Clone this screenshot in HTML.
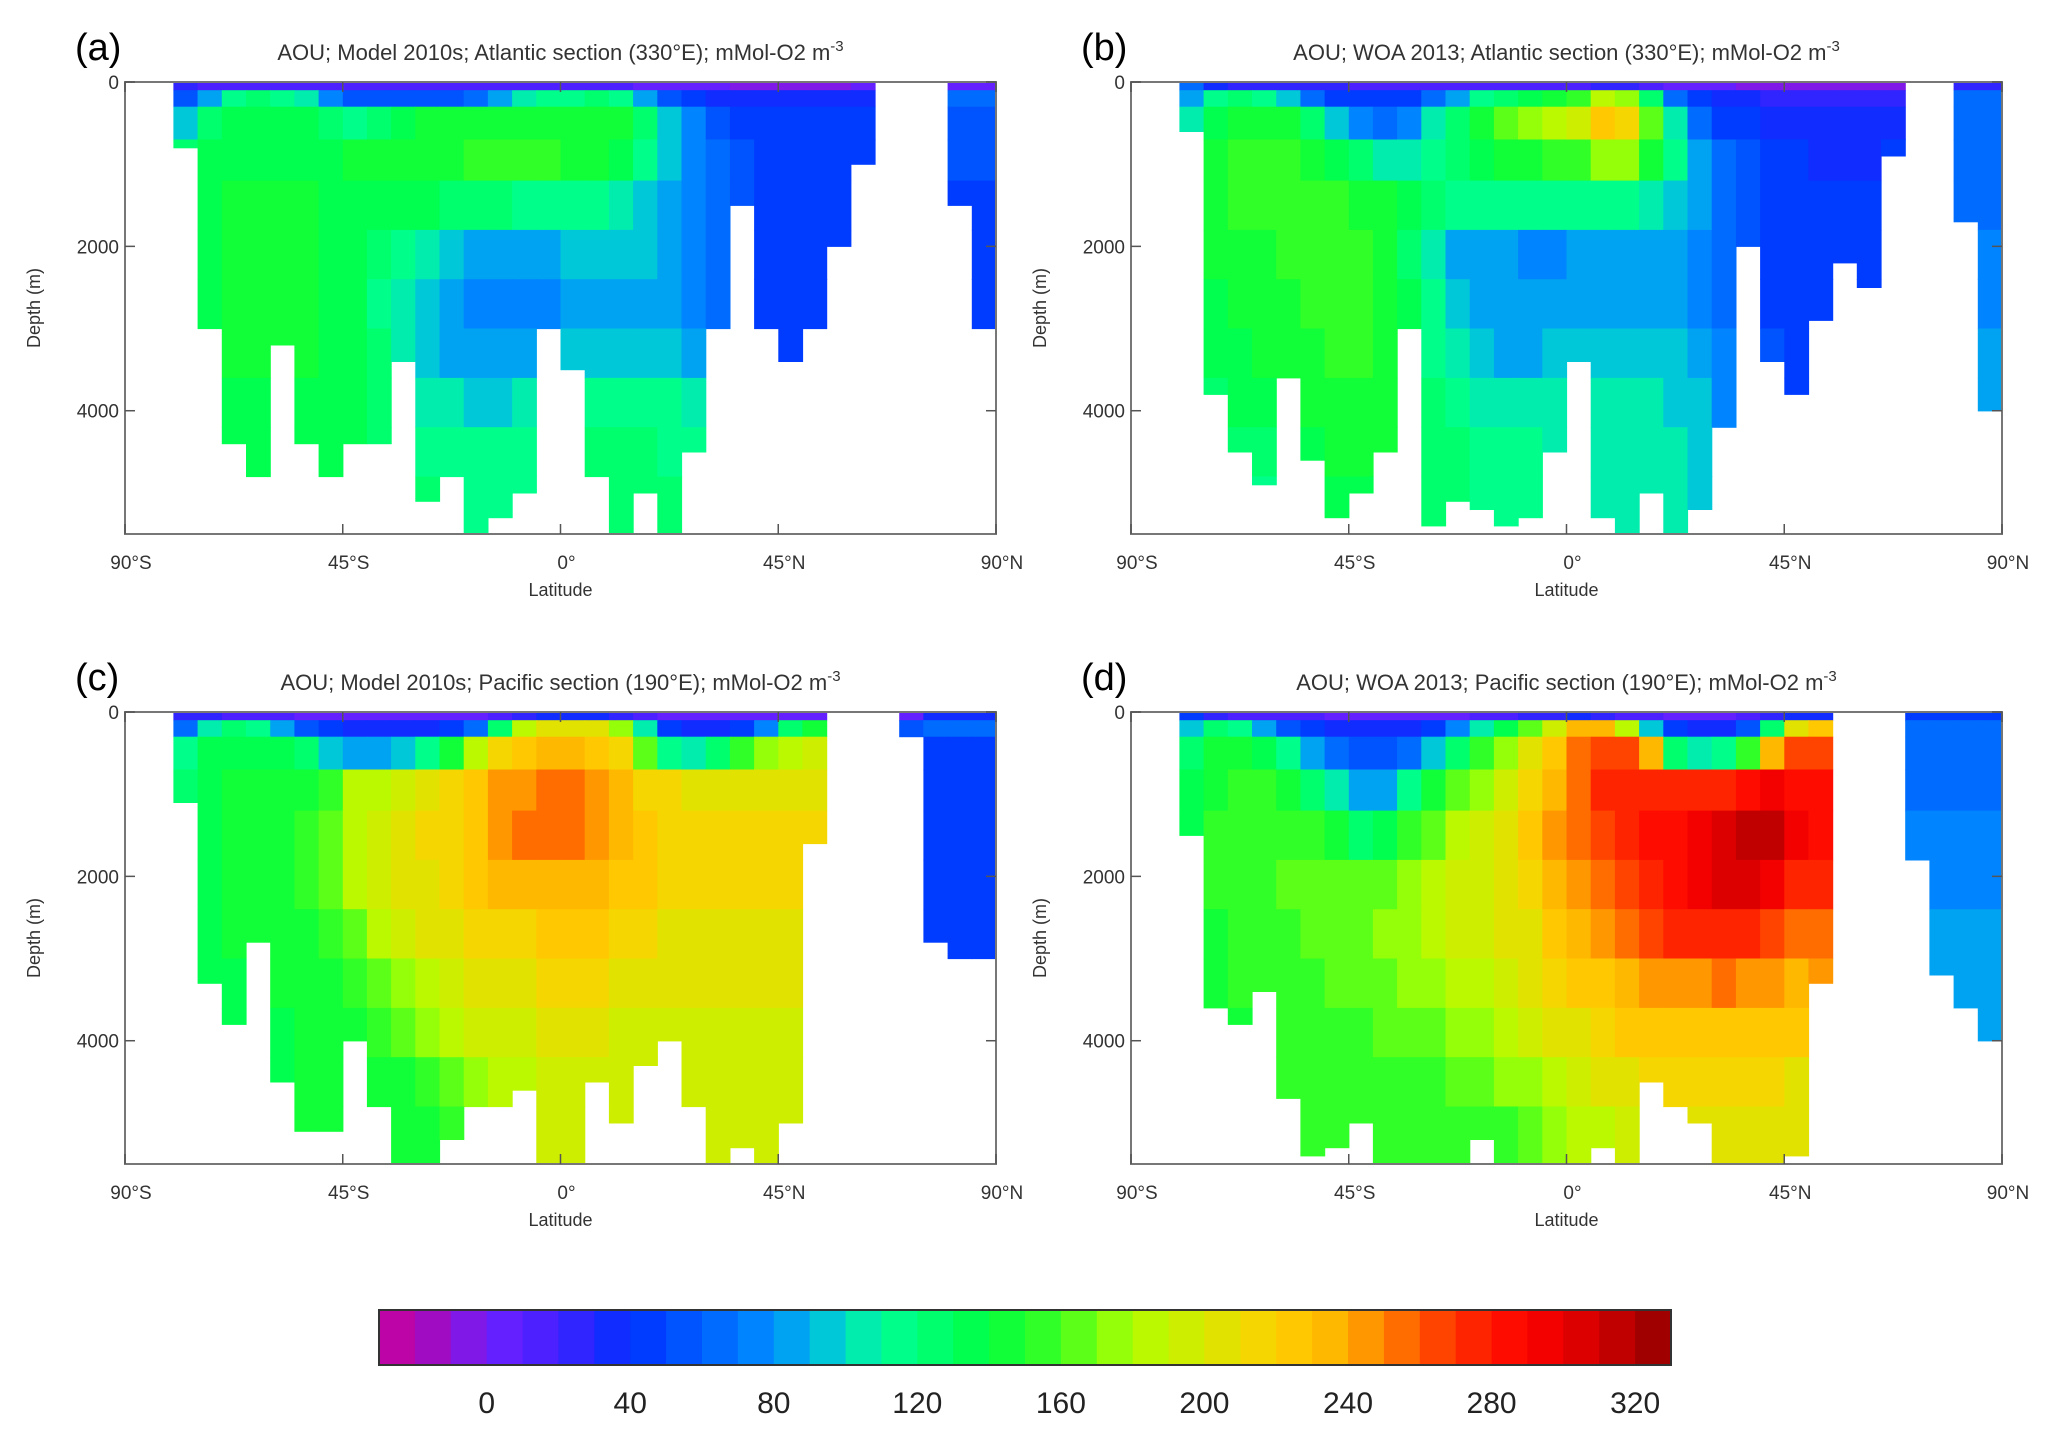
<!DOCTYPE html>
<html><head><meta charset="utf-8"><style>
html,body{margin:0;padding:0;background:#fff;}
svg{display:block;font-family:"Liberation Sans",sans-serif;}
</style></head><body>
<svg id="fig" width="2068" height="1438" viewBox="0 0 2068 1438" xmlns="http://www.w3.org/2000/svg"></svg>
<script>
// ---- shared axes data ----
const depthEdges=[0,100,300,700,1200,1800,2400,3000,3600,4200,4800,5500];
const latStarts=[-90,-85,-80,-75,-70,-65,-60,-55,-50,-45,-40,-35,-30,-25,-20,-15,-10,-5,0,5,10,15,20,25,30,35,40,45,50,55,60,65,70,75,80,85];
const xTickVals=[-90,-45,0,45,90];
const xTickLabels=["90°S","45°S","0°","45°N","90°N"];
const yTickVals=[0,2000,4000];
const yTickLabels=["0","2000","4000"];
const cbTickVals=[0,40,80,120,160,200,240,280,320];
const cbMin=-30, cbMax=330;

// ---- panel (a) Model Atlantic ----
const aBottom=[0,0,800,3000,4400,4800, 3200,4400,4800,4400,4400,3400, 5100,4800,5500,5300,5000,3000, 3500,4800,5500,5000,5500,4500, 3000,1500,3000,3400,3000,2000, 1000,0,0,0,1500,3000];
const aVals=[
[0,0,20,15,15,15, 15,15,15,15,15,15, 15,15,15,12,12,12, 12,12,10,5,0,0, 0,-5,-5,-5,-5,-5, 0,0,0,0,5,5],
[0,0,50,80,110,120, 115,100,70,55,50,50, 50,55,60,80,100,110, 110,120,110,80,50,40, 35,30,30,30,30,30, 35,0,0,0,60,60],
[0,0,90,125,135,135, 130,130,120,115,120,135, 140,140,140,145,145,140, 140,145,140,120,90,70, 55,48,45,45,45,45, 45,0,0,0,55,55],
[0,0,120,135,138,138, 138,138,138,140,142,145, 145,148,150,152,152,150, 145,140,130,110,90,75, 60,52,48,45,45,45, 45,0,0,0,50,50],
[0,0,0,138,140,140, 140,140,138,138,135,135, 130,128,125,120,118,115, 115,112,105,95,85,75, 60,50,45,42,42,42, 0,0,0,0,45,45],
[0,0,0,138,140,140, 140,140,138,135,125,115, 105,95,85,80,80,85, 90,95,95,90,85,75, 60,48,42,42,42,42, 0,0,0,0,0,45],
[0,0,0,138,140,140, 140,140,135,130,118,100, 90,80,75,72,72,75, 80,85,88,88,85,75, 65,45,42,42,42,42, 0,0,0,0,0,45],
[0,0,0,138,140,140, 140,140,135,130,120,105, 95,88,85,82,85,88, 90,95,98,98,95,85, 70,45,42,42,42,42, 0,0,0,0,0,0],
[0,0,0,136,138,138, 138,138,135,130,125,115, 108,100,98,98,100,105, 108,110,112,112,110,100, 80,0,0,0,0,0, 0,0,0,0,0,0],
[0,0,0,135,136,136, 136,136,135,132,128,122, 118,112,110,110,112,115, 118,120,120,120,118,110, 0,0,0,0,0,0, 0,0,0,0,0,0],
[0,0,0,130,132,132, 132,132,132,130,128,125, 122,120,118,118,118,120, 120,122,122,122,120,115, 0,0,0,0,0,0, 0,0,0,0,0,0]];

// ---- panel (b) WOA Atlantic ----
const bBottom=[0,0,600,3800,4500,4900, 3600,4600,5300,5000,4500,3000, 5400,5100,5200,5400,5300,4500, 3400,5300,5500,5000,5500,5200, 4200,2000,3400,3800,2900,2200, 2500,900,0,0,1700,4000];
const bVals=[
[0,0,60,30,25,20, 20,20,20,15,15,15, 15,12,12,12,12,12, 15,20,20,10,5,0, 0,-5,-10,-10,-10,-10, -10,-10,0,0,20,20],
[0,0,80,110,120,115, 90,60,45,40,40,45, 60,80,110,120,130,140, 150,180,170,120,60,40, 35,30,25,25,20,20, 20,20,0,0,60,60],
[0,0,100,135,145,145, 140,120,90,70,65,75, 100,120,140,160,175,180, 190,225,215,160,100,60, 48,42,38,35,32,32, 32,35,0,0,60,60],
[0,0,0,140,150,150, 150,145,135,120,100,100, 110,120,130,140,145,150, 155,175,170,140,110,80, 60,50,45,40,38,38, 38,40,0,0,60,60],
[0,0,0,140,150,150, 150,150,150,148,140,130, 120,110,110,115,115,115, 115,115,110,105,95,80, 65,50,45,42,40,40, 40,0,0,0,65,65],
[0,0,0,140,145,148, 150,150,150,150,145,120, 100,85,80,80,75,70, 80,85,85,85,85,75, 65,50,45,42,40,40, 40,0,0,0,70,70],
[0,0,0,138,142,145, 148,150,150,150,145,130, 110,90,80,80,80,80, 85,85,85,85,85,78, 65,0,48,45,42,0, 42,0,0,0,75,75],
[0,0,0,130,138,142, 145,148,150,150,145,135, 118,100,90,88,88,90, 92,92,92,92,90,82, 70,0,50,48,0,0, 0,0,0,0,80,80],
[0,0,0,120,130,135, 140,145,148,148,145,135, 125,112,105,100,100,100, 0,100,100,100,98,90, 75,0,0,48,0,0, 0,0,0,0,0,80],
[0,0,0,0,120,125, 130,138,142,145,142,135, 128,120,115,112,110,108, 0,105,105,105,102,95, 0,0,0,0,0,0, 0,0,0,0,0,0],
[0,0,0,0,0,115, 0,0,130,132,132,128, 125,120,118,115,112,110, 0,100,100,100,100,95, 0,0,0,0,0,0, 0,0,0,0,0,0]];

// ---- panel (c) Model Pacific ----
const cBottom=[0,0,1100,3300,3800,2800, 4500,5100,5100,4000,4800,5500, 5500,5200,4800,4800,4600,5500, 5500,4500,5000,4300,4000,4800, 5500,5300,5500,5000,1600,0, 0,0,300,2800,3000,3000];
const cVals=[
[0,0,20,20,10,10, 10,5,0,0,0,0, 0,0,5,10,20,30, 30,30,20,10,5,0, 0,0,0,0,5,0, 0,0,5,30,30,30],
[0,0,60,100,120,110, 80,50,40,35,35,35, 35,40,60,120,180,200, 200,200,170,100,45,35, 35,40,70,120,140,0, 0,0,50,60,60,60],
[0,0,110,130,135,135, 130,120,90,80,80,90, 110,140,180,210,225,230, 230,225,210,160,110,100, 120,150,170,180,190,0, 0,0,0,48,48,48],
[0,0,125,135,140,140, 140,140,150,180,185,190, 200,210,220,240,248,250, 250,245,230,215,210,205, 200,200,200,205,205,0, 0,0,0,45,45,45],
[0,0,0,138,140,142, 145,150,165,185,195,200, 210,215,225,240,250,252, 252,248,235,225,215,210, 210,210,210,210,210,0, 0,0,0,42,42,42],
[0,0,0,138,140,142, 145,150,160,180,190,200, 205,210,220,230,235,235, 235,235,228,220,215,210, 210,210,210,210,0,0, 0,0,0,42,42,42],
[0,0,0,138,140,140, 142,145,150,165,180,190, 200,205,210,215,218,220, 220,220,215,210,208,205, 205,205,205,205,0,0, 0,0,0,42,42,42],
[0,0,0,136,138,138, 140,142,145,150,160,175, 185,195,200,205,208,210, 210,210,208,205,202,200, 200,200,200,200,0,0, 0,0,0,0,0,0],
[0,0,0,135,138,138, 138,140,142,145,150,160, 170,180,190,195,198,200, 200,200,198,198,196,195, 195,195,195,195,0,0, 0,0,0,0,0,0],
[0,0,0,0,0,0, 138,140,140,142,145,148, 155,160,170,180,188,192, 195,195,195,195,192,192, 192,192,192,192,0,0, 0,0,0,0,0,0],
[0,0,0,0,0,0, 0,140,142,142,142,142, 145,150,160,175,185,190, 192,192,192,192,190,190, 190,190,190,190,0,0, 0,0,0,0,0,0]];

// ---- panel (d) WOA Pacific ----
const dBottom=[0,0,1500,3600,3800,3400, 4700,5400,5300,5000,5500,5500, 5500,5500,5200,5500,5500,5500, 5500,5300,5500,4500,4800,5000, 5500,5500,5500,5400,3300,0, 0,0,1800,3200,3600,4000];
const dVals=[
[0,0,40,20,15,10, 10,10,5,5,5,0, 0,5,10,15,20,25, 30,25,15,10,5,5, 5,10,20,30,30,0, 0,0,40,40,40,40],
[0,0,90,120,110,80, 55,40,35,30,30,35, 45,70,100,130,160,190, 230,230,180,90,45,35, 35,50,120,200,220,0, 0,0,60,60,60,60],
[0,0,120,140,140,130, 110,80,60,50,50,60, 90,120,150,175,200,225, 250,265,260,230,120,100, 110,150,230,260,260,0, 0,0,60,60,60,60],
[0,0,130,145,150,150, 140,125,100,80,80,110, 140,160,175,195,215,235, 255,270,275,275,270,270, 275,285,290,285,280,0, 0,0,60,65,65,65],
[0,0,135,150,155,155, 155,150,140,125,130,150, 165,180,190,205,220,240, 255,265,275,280,285,295, 305,315,310,290,280,0, 0,0,70,70,70,70],
[0,0,0,150,155,158, 160,160,160,160,165,175, 180,190,195,205,215,230, 245,255,265,275,285,295, 300,300,290,275,270,0, 0,0,0,75,75,75],
[0,0,0,148,152,155, 158,160,160,165,170,178, 183,190,195,200,208,220, 232,242,252,262,270,275, 278,275,265,255,250,0, 0,0,0,80,80,80],
[0,0,0,145,150,152, 155,158,160,162,165,170, 175,182,188,195,200,210, 220,228,235,240,245,248, 250,245,240,235,245,0, 0,0,0,80,80,80],
[0,0,0,140,145,148, 152,155,158,158,160,162, 165,170,178,185,192,200, 208,215,220,225,228,228, 228,225,222,220,0,0, 0,0,0,0,0,85],
[0,0,0,0,0,0, 150,152,155,155,155,155, 158,160,165,170,178,185, 195,200,205,210,212,212, 212,210,210,208,0,0, 0,0,0,0,0,0],
[0,0,0,0,0,0, 0,150,150,150,150,150, 150,152,155,158,165,172, 180,188,195,200,205,205, 205,205,205,205,0,0, 0,0,0,0,0,0]];

const NS="http://www.w3.org/2000/svg";
const svg=document.getElementById('fig');
function mk(tag,attrs,parent){const e=document.createElementNS(NS,tag);for(const k in attrs)e.setAttribute(k,attrs[k]);(parent||svg).appendChild(e);return e;}

const stops=[[-30,[204,0,153]],[-10,[144,16,208]],[0,[112,32,255]],[20,[64,32,255]],[40,[0,48,255]],[60,[0,96,255]],[80,[0,144,255]],[95,[0,200,216]],[110,[0,255,153]],[140,[0,255,64]],[160,[64,255,32]],[180,[176,255,0]],[200,[216,232,0]],[220,[255,208,0]],[240,[255,176,0]],[250,[255,128,0]],[270,[255,48,0]],[290,[255,0,0]],[310,[208,0,0]],[330,[144,0,0]]];
function color(v){
  let b=Math.floor(v/10)*10+5; b=Math.max(cbMin+5,Math.min(cbMax-5,b));
  for(let i=0;i<stops.length-1;i++){const [v0,c0]=stops[i],[v1,c1]=stops[i+1];
    if(b>=v0&&b<=v1){const t=(b-v0)/(v1-v0);return 'rgb('+c0.map((c,j)=>Math.round(c+(c1[j]-c)*t)).join(',')+')';}}
  return 'rgb(144,0,0)';
}

const W=871,H=452;
function drawPanel(key,letter,title,px,py,vals,bottom){
  const g=mk('g',{});
  
  
  const xs=lat=>px+(lat+90)/180*W;
  const ys=d=>py+d/5500*H;
  const hm=mk('g',{},g);
  
  
  for(let r=0;r<vals.length;r++){
    for(let c=0;c<latStarts.length;c++){
      const top=depthEdges[r], bot=Math.min(depthEdges[r+1],bottom[c]);
      if(bot<=top) continue;
      const x0=xs(latStarts[c]), x1=xs(latStarts[c]+5);
      const cell=mk('rect',{x:x0.toFixed(1),y:ys(top).toFixed(1),width:(x1-x0+0.6).toFixed(1),height:(ys(bot)-ys(top)+0.6).toFixed(1),fill:color(vals[r][c])},hm);
      
      
    }
  }
  const fr=mk('rect',{x:px,y:py,width:W,height:H,fill:'none',stroke:'#777','stroke-width':2},g);
  
  
  xTickVals.forEach((v,i)=>{
    const x=xs(v);
    mk('line',{x1:x,y1:py,x2:x,y2:py+10,stroke:'#555','stroke-width':1.5},g);
    mk('line',{x1:x,y1:py+H,x2:x,y2:py+H-10,stroke:'#555','stroke-width':1.5},g);
    const t=mk('text',{x:x+6,y:py+H+35,'font-size':19,'text-anchor':'middle',fill:'#333'},g);
    t.textContent=xTickLabels[i];
    
    
  });
  yTickVals.forEach((v,i)=>{
    const y=ys(v);
    mk('line',{x1:px,y1:y,x2:px+10,y2:y,stroke:'#555','stroke-width':1.5},g);
    mk('line',{x1:px+W,y1:y,x2:px+W-10,y2:y,stroke:'#555','stroke-width':1.5},g);
    const t=mk('text',{x:px-6,y:y+7,'font-size':19,'text-anchor':'end',fill:'#333'},g);
    t.textContent=yTickLabels[i];
    
    
  });
  const xl=mk('text',{x:px+W/2,y:py+H+62,'font-size':18,'text-anchor':'middle',fill:'#333'},g);
  xl.textContent='Latitude';
  
  
  const yl=mk('text',{x:0,y:0,'font-size':18,'text-anchor':'middle',fill:'#333',transform:'translate('+(px-85)+','+(py+H/2)+') rotate(-90)'},g);
  yl.textContent='Depth (m)';
  
  
  const tt=mk('text',{x:px+W/2,y:py-22,'font-size':22,'text-anchor':'middle',fill:'#333'},g);
  tt.innerHTML=title+' m<tspan dy="-9" font-size="15">-3</tspan>';
  
  
  const lt=mk('text',{x:px-50,y:py-22,'font-size':38,fill:'#000'},g);
  lt.textContent=letter;
  
  
}
drawPanel('a','(a)','AOU; Model 2010s; Atlantic section (330°E); mMol-O2',125,82,aVals,aBottom);
drawPanel('b','(b)','AOU; WOA 2013; Atlantic section (330°E); mMol-O2',1131,82,bVals,bBottom);
drawPanel('c','(c)','AOU; Model 2010s; Pacific section (190°E); mMol-O2',125,712,cVals,cBottom);
drawPanel('d','(d)','AOU; WOA 2013; Pacific section (190°E); mMol-O2',1131,712,dVals,dBottom);

// colorbar
const cb=mk('g',{});


const cbX=379,cbW=1292,cbY=1310,cbH=55;
const cbs=v=>cbX+(v-cbMin)/(cbMax-cbMin)*cbW;
for(let v=cbMin;v<cbMax;v+=10){
  const r=mk('rect',{x:cbs(v).toFixed(1),y:cbY,width:(cbs(v+10)-cbs(v)+0.6).toFixed(1),height:cbH,fill:color(v+5)},cb);
  
  
}
mk('rect',{x:cbX,y:cbY,width:cbW,height:cbH,fill:'none',stroke:'#333','stroke-width':2},cb);
cbTickVals.forEach(v=>{
  const t=mk('text',{x:cbs(v),y:1413,'font-size':30,'text-anchor':'middle',fill:'#222'},cb);
  t.textContent=String(v);
  
  
});
</script>
</body></html>
